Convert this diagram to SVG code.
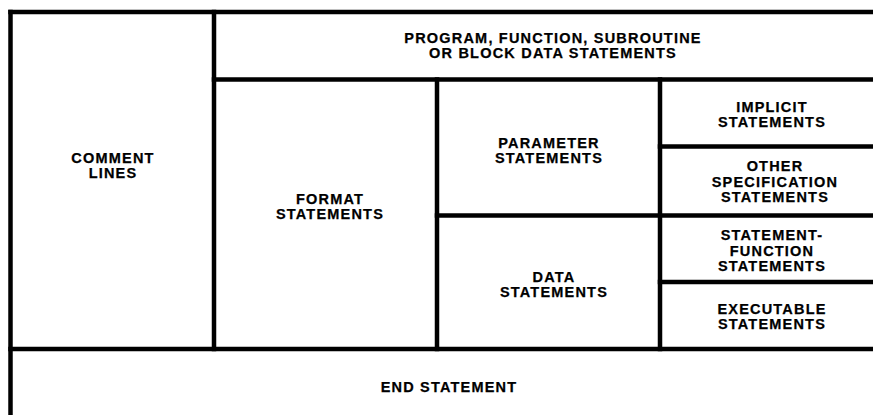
<svg xmlns="http://www.w3.org/2000/svg" width="873" height="415" viewBox="0 0 873 415">
<style>
.ln{stroke:#000;stroke-width:4.5;fill:none;stroke-linecap:square}
text{font-family:"Liberation Sans",Arial,sans-serif;font-weight:bold;font-size:14.5px;letter-spacing:1.2px;text-anchor:middle;fill:#000;stroke:#000;stroke-width:0.25}
</style>
<rect x="0" y="0" width="873" height="415" fill="#fff"/>
<g id="connectors">
<line class="ln" x1="10.5" y1="12" x2="10.5" y2="415"/>
<line class="ln" x1="10.5" y1="12" x2="875" y2="12"/>
<line class="ln" x1="214" y1="79.5" x2="875" y2="79.5"/>
<line class="ln" x1="214" y1="12" x2="214" y2="349"/>
<line class="ln" x1="10.5" y1="349" x2="875" y2="349"/>
<line class="ln" x1="437" y1="79.5" x2="437" y2="349"/>
<line class="ln" x1="660" y1="79.5" x2="660" y2="349"/>
<line class="ln" x1="437" y1="215.5" x2="875" y2="215.5"/>
<line class="ln" x1="660" y1="146.5" x2="875" y2="146.5"/>
<line class="ln" x1="660" y1="282" x2="875" y2="282"/>
</g>
<g id="comment"><text x="113" y="163">COMMENT</text><text x="113" y="178">LINES</text></g>
<g id="program"><text x="553" y="43">PROGRAM, FUNCTION, SUBROUTINE</text><text x="553" y="58">OR BLOCK DATA STATEMENTS</text></g>
<g id="format"><text x="330" y="204">FORMAT</text><text x="330" y="219">STATEMENTS</text></g>
<g id="parameter"><text x="549" y="148">PARAMETER</text><text x="549" y="163">STATEMENTS</text></g>
<g id="data"><text x="554" y="282">DATA</text><text x="554" y="297">STATEMENTS</text></g>
<g id="implicit"><text x="772" y="112">IMPLICIT</text><text x="772" y="127">STATEMENTS</text></g>
<g id="other"><text x="775" y="171">OTHER</text><text x="775" y="186.5">SPECIFICATION</text><text x="775" y="202">STATEMENTS</text></g>
<g id="stmtfunc"><text x="772" y="240">STATEMENT-</text><text x="772" y="255.5">FUNCTION</text><text x="772" y="271">STATEMENTS</text></g>
<g id="executable"><text x="772" y="314">EXECUTABLE</text><text x="772" y="329">STATEMENTS</text></g>
<g id="end"><text x="449" y="392">END STATEMENT</text></g>
</svg>
